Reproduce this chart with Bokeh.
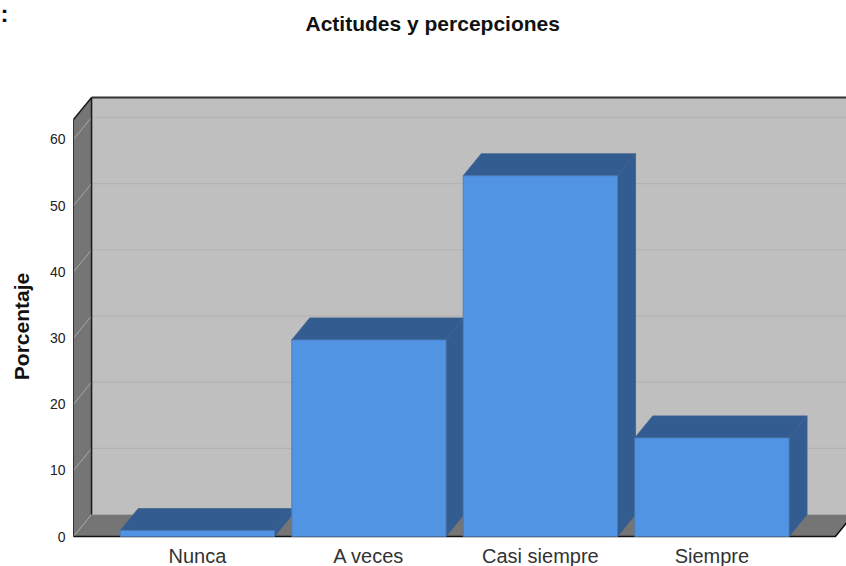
import math
from bokeh.plotting import figure
from bokeh.models import Range1d, FixedTicker, Label
from bokeh.embed import file_html
from bokeh.resources import INLINE

categories = ["Nunca", "A veces", "Casi siempre", "Siempre"]
values = [0.9, 29.7, 54.5, 14.9]
y_ticks = [0, 10, 20, 30, 40, 50, 60]

FONT = "Liberation Sans"
DX, DY = 0.105, 3.32      # depth of the 3-D box in data units
BAR = 0.9
X0, X1 = -0.722, 3.785    # front plane, left / right (x1 visible edge)
X_FRONT_END, Y_TOP = 3.72, 63.0

p = figure(width=846, height=566, output_backend="svg", toolbar_location=None,
           x_range=Range1d(-1.148, 3.785), y_range=Range1d(-4.53, 80.97),
           min_border=0, outline_line_color=None, background_fill_color="white")
p.styles = {"position": "absolute", "left": "0px", "top": "0px"}
p.grid.visible = False

# walls
p.patch([X0 + DX, X1 + DX, X1 + DX, X0 + DX], [DY, DY, Y_TOP + DY, Y_TOP + DY],
        fill_color="#BFBFBF", line_color=None)
p.patch([X0, X0 + DX, X0 + DX, X0], [0, DY, Y_TOP + DY, Y_TOP], fill_color="#757575", line_color=None)
p.patch([X0, X0 + DX, X_FRONT_END + DX, X_FRONT_END], [0, DY, DY, 0], fill_color="#757575", line_color=None)

# gridlines on back wall and side wall
for v in y_ticks[1:]:
    p.line([X0 + DX, X1 + DX], [v + DY, v + DY], line_color="#B3B3B3", line_width=1.2)
    p.line([X0, X0 + DX], [v, v + DY], line_color="#A8A8A8", line_width=1)
p.line([X0, X0 + DX], [0, DY], line_color="#A8A8A8", line_width=1)

# dark edges
p.line([X0 + DX, X1 + DX], [Y_TOP + DY, Y_TOP + DY], line_color="#333333", line_width=2)
p.line([X0, X0 + DX, X0 + DX], [Y_TOP, Y_TOP + DY, DY], line_color="#1A1A1A", line_width=1.5)
p.line([X0, X_FRONT_END, X_FRONT_END + DX], [0, 0, DY], line_color="#111111", line_width=1.6)

# bars
for i, v in enumerate(values):
    l, r = i - BAR / 2, i + BAR / 2
    p.patch([l, r, r + DX, l + DX], [v, v, v + DY, v + DY], fill_color="#335C90", line_color="#3F638F", line_width=0.8)
    p.patch([r, r + DX, r + DX, r], [0, DY, v + DY, v], fill_color="#335C90", line_color="#3F638F", line_width=0.8)
    p.quad(left=l, right=r, bottom=0, top=v, fill_color="#5294E4", line_color="#4A78B0", line_width=0.8)

# axes, placed inside the full-canvas frame
p.yaxis.fixed_location = X0
p.yaxis.ticker = FixedTicker(ticks=y_ticks)
p.yaxis.major_label_text_font = FONT
p.yaxis.major_label_text_font_size = "14px"
p.yaxis.major_label_text_color = "#222222"
p.yaxis.major_tick_line_color = None
p.yaxis.minor_tick_line_color = None
p.yaxis.major_label_standoff = 2
p.yaxis.axis_line_color = "#333333"
p.yaxis.bounds = (0, Y_TOP)

p.xaxis.fixed_location = 0
p.xaxis.ticker = FixedTicker(ticks=list(range(len(categories))))
p.xaxis.major_label_overrides = {i: c for i, c in enumerate(categories)}
p.xaxis.major_label_text_font = FONT
p.xaxis.major_label_text_font_size = "20px"
p.xaxis.major_label_text_color = "#333333"
p.xaxis.major_tick_line_color = None
p.xaxis.minor_tick_line_color = None
p.xaxis.axis_line_color = None
p.xaxis.major_label_standoff = 2

# texts outside the plot box
p.add_layout(Label(x=305, y=543, x_units="screen", y_units="screen", text="Actitudes y percepciones",
                   text_font=FONT, text_font_size="21px", text_font_style="bold",
                   text_color="#111111", text_baseline="alphabetic"))
p.add_layout(Label(x=21, y=240, x_units="screen", y_units="screen", text="Porcentaje", angle=math.pi / 2,
                   text_font=FONT, text_font_size="21px", text_font_style="bold",
                   text_color="#111111", text_align="center", text_baseline="middle"))
p.add_layout(Label(x=0, y=553, x_units="screen", y_units="screen", text=":",
                   text_font=FONT, text_font_size="24px", text_font_style="bold", text_color="#111111",
                   text_baseline="alphabetic"))

open("out.html", "w").write(file_html(p, INLINE))
